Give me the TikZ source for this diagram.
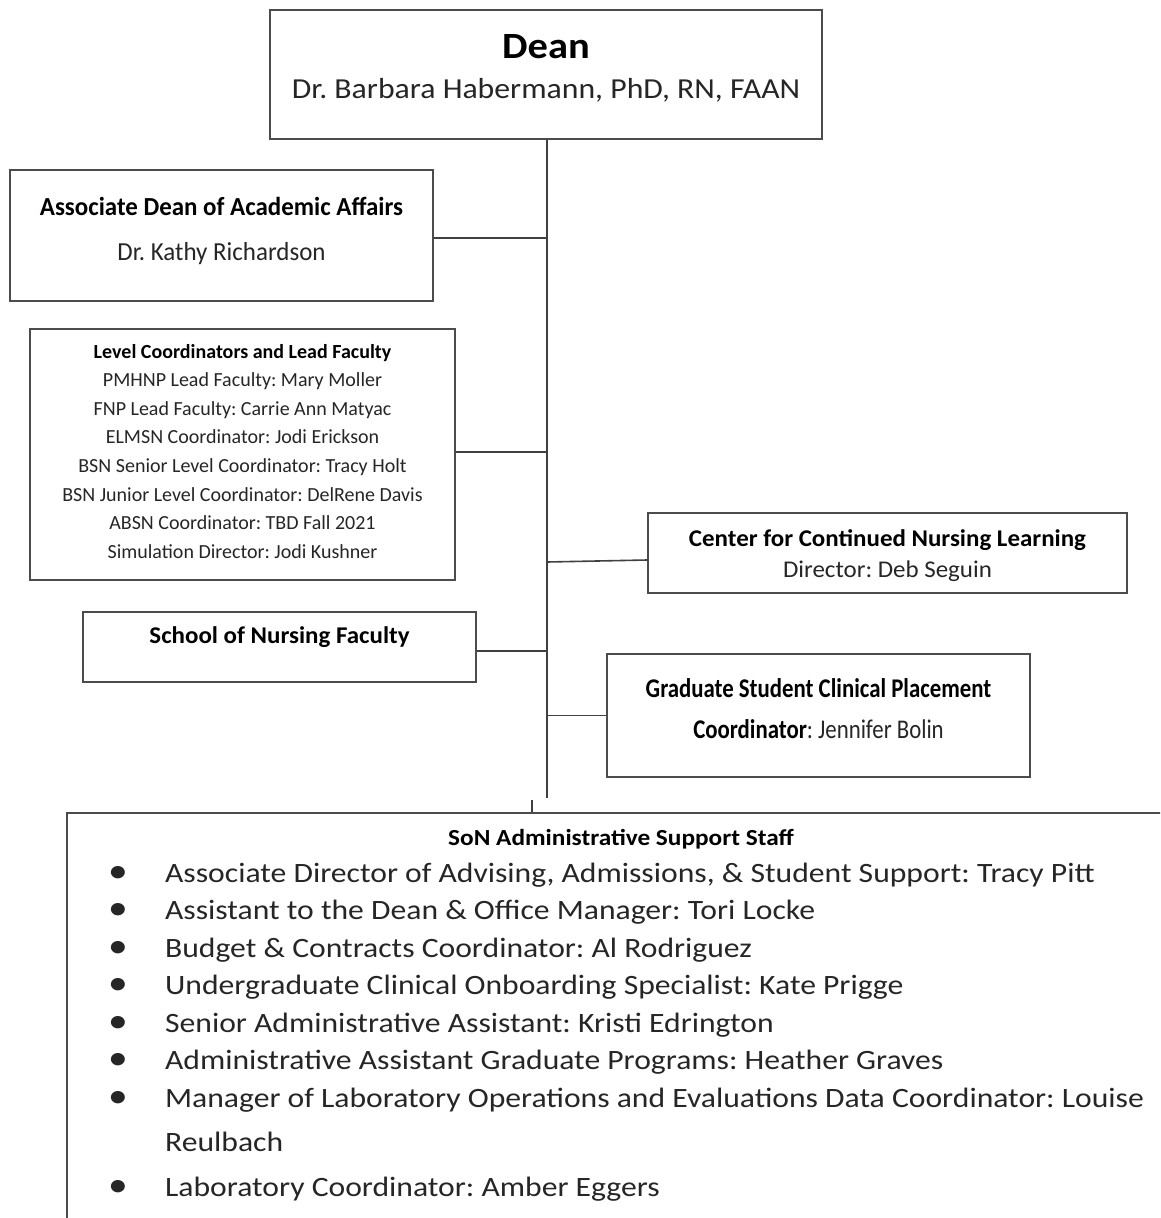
\documentclass[tikz,border=0pt]{standalone}
\usepackage{fontspec}
\setmainfont{Carlito}
\usepackage{graphicx}
\usetikzlibrary{calc}
\frenchspacing

% Zeilen gestaucht setzen
\newcommand{\zeilen}[2]{\scalebox{#1}[1]{\begin{tabular}[t]{@{}c@{}}#2\end{tabular}}}
\newcommand{\liste}[2]{\scalebox{#1}[1]{\begin{tabular}[t]{@{}l@{}}#2\end{tabular}}}
\newcommand{\punkt}{\makebox[50.4pt][l]{\scalebox{1.25}{\textbullet}}}

\begin{document}
\begin{tikzpicture}[x=1pt, y=-1pt,
			kasten/.style={draw=black!70, line width=1.6pt, fill=white, inner sep=0pt},
			linie/.style={draw=black!75, line width=1.6pt},
			txt/.style={anchor=base, inner sep=0pt, text=black!85},
			titel/.style={anchor=base, inner sep=0pt, text=black}]
			% Bildbereich
			\useasboundingbox (0,0) rectangle (1160,1218);
			\clip (0,0) rectangle (1160,1218);
			\fill[white] (0,0) rectangle (1160,1218);
			% Kaesten zeichnen
			\node[kasten, minimum width=552, minimum height=129] (dean) at (546,74.5) {};
			\node[kasten, minimum width=423, minimum height=131] (assoc) at (221.5,235.5) {};
			\node[kasten, minimum width=425, minimum height=251] (level) at (242.5,454.5) {};
			\node[kasten, minimum width=479, minimum height=80] (cnl) at (887.5,553) {};
			\node[kasten, minimum width=393, minimum height=70] (faculty) at (279.5,647) {};
			\node[kasten, minimum width=423, minimum height=123] (grad) at (818.5,715.5) {};
			\node[kasten, minimum width=1113, minimum height=427] (staff) at (623.5,1026.5) {};
			% Verbindungen
			\coordinate (spine) at (547,798);
			\coordinate (abzweig) at (532,800);
			\draw[linie] (dean.south -| spine) -- (spine);
			\draw[linie] ([yshift=-2.5pt]assoc.east) -- ([yshift=-2.5pt]assoc.east -| spine);
			\draw[linie] ([yshift=2.5pt]level.east) -- ([yshift=2.5pt]level.east -| spine);
			\draw[linie] ([yshift=-7pt]cnl.west) -- ([yshift=-9pt]cnl.west -| spine);
			\draw[linie] ([yshift=-4pt]faculty.east) -- ([yshift=-4pt]faculty.east -| spine);
			\draw[linie] (grad.west) -- (grad.west -| spine);
			\draw[linie] (abzweig) -- (abzweig |- staff.north);
			% Texte
			\node[txt, font=\fontsize{29}{40}\selectfont] (deantxt) at (546,58)
				{\zeilen{1.095}{{\fontsize{37}{40}\selectfont\bfseries\color{black}Dean}\\ Dr. Barbara Habermann, PhD, RN, FAAN}};
			\node[txt, font=\fontsize{26}{45}\selectfont] (assoctxt) at (221.5,215)
				{\zeilen{0.96}{{\bfseries\color{black}Associate Dean of Academic Affairs}\\ Dr. Kathy Richardson}};
			\node[txt, font=\fontsize{20}{28.6}\selectfont] (leveltxt) at (242.5,358)
				{\zeilen{1}{{\bfseries\color{black}Level Coordinators and Lead Faculty}\\
				PMHNP Lead Faculty: Mary Moller\\
				FNP Lead Faculty: Carrie Ann Matyac\\
				ELMSN Coordinator: Jodi Erickson\\
				BSN Senior Level Coordinator: Tracy Holt\\
				BSN Junior Level Coordinator: DelRene Davis\\
				ABSN Coordinator: TBD Fall 2021\\
				Simulation Director: Jodi Kushner}};
			\node[txt, font=\fontsize{24}{31}\selectfont] (cnltxt) at (887.5,546)
				{\zeilen{1.04}{{\bfseries\color{black}Center for Continued Nursing Learning}\\ Director: Deb Seguin}};
			\node[titel, font=\fontsize{24}{31}\selectfont\bfseries] (facultytxt) at (279.5,643)
				{\scalebox{1.04}[1]{School of Nursing Faculty}};
			\node[txt, font=\fontsize{27}{41}\selectfont] (gradtxt) at (818.5,697)
				{\zeilen{0.845}{{\bfseries\color{black}Graduate Student Clinical Placement}\\ {\bfseries\color{black}Coordinator}: Jennifer Bolin}};
			\node[titel, font=\fontsize{23}{30}\selectfont\bfseries] (stafftxt) at (621,845)
				{\scalebox{1.1}[1]{SoN Administrative Support Staff}};
			\node[txt, anchor=base west, font=\fontsize{28}{37.5}\selectfont] (stafflist) at (108,882)
				{\liste{1.13}{\punkt Associate Director of Advising, Admissions, \& Student Support: Tracy Pitt\\
				\punkt Assistant to the Dean \& Office Manager: Tori Locke\\
				\punkt Budget \& Contracts Coordinator: Al Rodriguez\\
				\punkt Undergraduate Clinical Onboarding Specialist: Kate Prigge\\
				\punkt Senior Administrative Assistant: Kristi Edrington\\
				\punkt Administrative Assistant Graduate Programs: Heather Graves\\
				\punkt Manager of Laboratory Operations and Evaluations Data Coordinator: Louise\\[6.5pt]
				\hspace*{50.4pt}Reulbach\\[7.5pt]
				\punkt Laboratory Coordinator: Amber Eggers}};
		\end{tikzpicture}
\end{document}
